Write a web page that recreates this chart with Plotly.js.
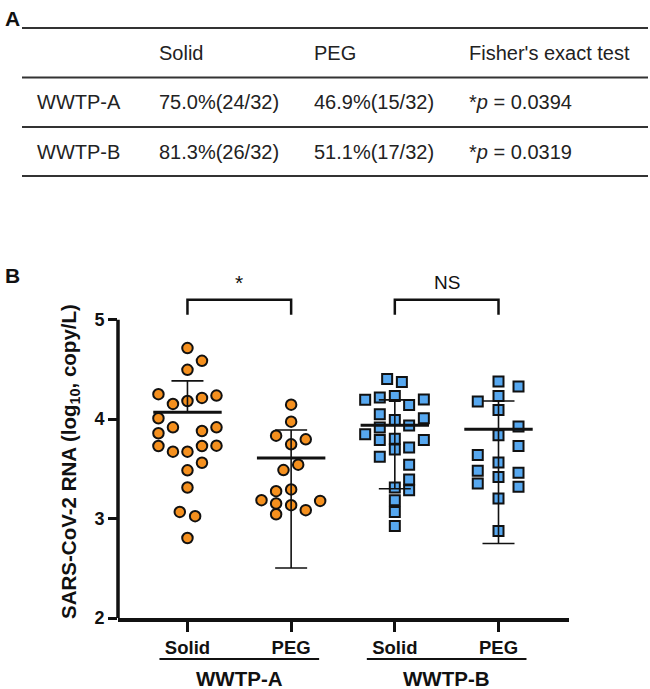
<!DOCTYPE html>
<html>
<head>
<meta charset="utf-8">
<script src="https://cdn.plot.ly/plotly-3.0.1.min.js"></script>
<style>html,body{margin:0;padding:0;background:#fff;}#chart{width:650px;height:689px;}</style>
</head>
<body>
<div id="chart"></div>
<script>
// ---------- Data ----------
var tableColumns = ["Solid", "PEG", "Fisher's exact test"];
var tableRows = ["WWTP-A", "WWTP-B"];
var solidRates = ["75.0%(24/32)", "81.3%(26/32)"];
var pegRates = ["46.9%(15/32)", "51.1%(17/32)"];
var fisherP = ["0.0394", "0.0319"];

var categories = ["Solid", "PEG", "Solid", "PEG"];
var plants = ["WWTP-A", "WWTP-B"];
var significance = ["*", "NS"];

var solidA = [4.715,4.587,4.496,4.251,4.153,4.183,4.214,4.237,4.009,3.918,3.858,3.881,3.918,3.730,3.673,3.673,3.730,3.733,3.562,3.485,3.313,3.067,3.024,2.805];
var pegA = [4.146,3.975,3.834,3.797,3.747,3.488,3.542,3.276,3.293,3.185,3.152,3.135,3.178,3.085,3.044];
var solidB = [4.405,4.375,4.194,4.217,4.234,4.143,4.197,4.049,3.992,4.009,3.915,3.935,3.848,3.790,3.804,3.790,3.696,3.716,3.622,3.542,3.394,3.313,3.286,3.185,3.067,2.926];
var pegB = [4.378,4.328,4.234,4.177,4.093,3.925,3.837,3.730,3.639,3.565,3.481,3.461,3.417,3.354,3.320,3.203,2.876];

var groupMean = [4.07, 3.609, 3.938, 3.898];
var groupUpper = [4.385, 3.891, 4.194, 4.183];
var groupLower = [4.07, 2.503, 3.300, 2.749];

var yTicks = [2, 3, 4, 5];

// horizontal scatter offsets of the dots (category units)
var solidAJitter = [0,0.14,0,-0.28,-0.14,0,0.14,0.28,-0.28,-0.14,-0.28,0.14,0.28,-0.28,-0.14,0,0.14,0.28,0.14,0,0,-0.074,0.074,0];
var pegAJitter = [0,0,-0.145,0.141,0,-0.074,0.068,-0.145,0,-0.286,-0.145,0,0.28,0.141,-0.145];
var solidBJitter = [-0.074,0.068,-0.286,-0.145,0,0.138,0.28,-0.145,0,0.28,-0.145,0.138,-0.286,-0.145,0,0.28,0,0.138,-0.145,0.138,0.138,0,0.138,0,0,0];
var pegBJitter = [0,0.193,0,-0.2,0,0.193,0,0.193,-0.2,0,-0.2,0.193,0,-0.2,0.193,0,0];

// ---------- Layout helpers ----------
var W = 650, H = 689;
var M = {l: 118, r: 81, t: 275, b: 71};
var PW = W - M.l - M.r, PH = H - M.t - M.b;
function px(x) { return (x - M.l) / PW; }
function py(y) { return (H - M.b - y) / PH; }

var FONT = "Arial, 'Liberation Sans', sans-serif";
var ORANGE = "#F5901E", BLUE = "#57A8F0";

function dots(vals, jit, idx, color, symbol, size) {
  return {
    type: "scatter", mode: "markers",
    x: vals.map(function (v, i) { return idx + jit[i]; }),
    y: vals,
    marker: {color: color, symbol: symbol, size: size, line: {color: "#111", width: 2}},
    hoverinfo: "y", showlegend: false, cliponaxis: false
  };
}

var traces = [
  dots(solidA, solidAJitter, 0, ORANGE, "circle", 10.5),
  dots(pegA, pegAJitter, 1, ORANGE, "circle", 10.5),
  dots(solidB, solidBJitter, 2, BLUE, "square", 10),
  dots(pegB, pegBJitter, 3, BLUE, "square", 10)
];

// mean lines
var mx = [], my = [];
groupMean.forEach(function (m, i) { mx.push(i - 0.33, i + 0.33, null); my.push(m, m, null); });
traces.push({type: "scatter", mode: "lines", x: mx, y: my, line: {color: "#111", width: 3}, hoverinfo: "skip", showlegend: false});

// SD error bars
traces.push({
  type: "scatter", mode: "markers",
  x: groupMean.map(function (m, i) { return i; }), y: groupMean,
  marker: {size: 1, color: "rgba(0,0,0,0)"},
  error_y: {type: "data", symmetric: false,
    array: groupUpper.map(function (u, i) { return u - groupMean[i]; }),
    arrayminus: groupLower.map(function (l, i) { return groupMean[i] - l; }),
    color: "#111", thickness: 1.6, width: 16},
  hoverinfo: "skip", showlegend: false
});

// ---------- Table (panel A) ----------
var annotations = [], shapes = [];
var colX = [157, 312, 467];
var rowY = [53, 102, 152];
var lineY = [28, 77.5, 127, 176];
var tfont = {family: FONT, size: 20, color: "#222"};

lineY.forEach(function (y) {
  shapes.push({type: "line", xref: "paper", yref: "paper", x0: px(22), x1: px(648), y0: py(y), y1: py(y), line: {color: "#333", width: 2}});
});
tableColumns.forEach(function (c, i) {
  annotations.push({xref: "paper", yref: "paper", x: px(colX[i]), y: py(rowY[0]), text: c, showarrow: false, xanchor: "left", yanchor: "middle", font: tfont});
});
tableRows.forEach(function (r, i) {
  var y = py(rowY[i + 1]);
  annotations.push({xref: "paper", yref: "paper", x: px(35), y: y, text: r, showarrow: false, xanchor: "left", yanchor: "middle", font: tfont});
  annotations.push({xref: "paper", yref: "paper", x: px(colX[0]), y: y, text: solidRates[i], showarrow: false, xanchor: "left", yanchor: "middle", font: tfont});
  annotations.push({xref: "paper", yref: "paper", x: px(colX[1]), y: y, text: pegRates[i], showarrow: false, xanchor: "left", yanchor: "middle", font: tfont});
  annotations.push({xref: "paper", yref: "paper", x: px(colX[2]), y: y, text: "*<i>p</i> = " + fisherP[i], showarrow: false, xanchor: "left", yanchor: "middle", font: tfont});
});

// panel letters
annotations.push({xref: "paper", yref: "paper", x: px(3), y: py(18), text: "<b>A</b>", showarrow: false, xanchor: "left", yanchor: "middle", font: {family: FONT, size: 21, color: "#111"}});
annotations.push({xref: "paper", yref: "paper", x: px(3), y: py(275), text: "<b>B</b>", showarrow: false, xanchor: "left", yanchor: "middle", font: {family: FONT, size: 21, color: "#111"}});

// y-axis title
annotations.push({xref: "paper", yref: "y", x: px(70), y: 3.57, text: "<b>SARS-CoV-2 RNA (log<sub>10</sub>, copy/L)</b>", textangle: -90, showarrow: false, xanchor: "center", yanchor: "middle", font: {family: FONT, size: 20.5, color: "#111"}});

// y-axis line (only 2..5)
shapes.push({type: "line", xref: "paper", yref: "y", x0: 0, x1: 0, y0: yTicks[0], y1: yTicks[yTicks.length - 1], line: {color: "#111", width: 3.5}});

// group underline + plant labels
plants.forEach(function (p, i) {
  var c0 = 2 * i, c1 = 2 * i + 1;
  shapes.push({type: "line", xref: "x", yref: "paper", x0: c0 - 0.27, x1: c1 + 0.27, y0: py(659), y1: py(659), line: {color: "#111", width: 2}});
  annotations.push({xref: "x", yref: "paper", x: (c0 + c1) / 2, y: py(678), text: "<b>" + p + "</b>", showarrow: false, xanchor: "center", yanchor: "middle", font: {family: FONT, size: 20.5, color: "#111"}});
  // significance brackets
  shapes.push({type: "path", xref: "x", yref: "y", path: "M " + c0 + ",5.05 L " + c0 + ",5.2 L " + c1 + ",5.2 L " + c1 + ",5.05", line: {color: "#111", width: 2.5}});
  annotations.push({xref: "x", yref: "y", x: (c0 + c1) / 2, y: 5.37, text: significance[i], showarrow: false, xanchor: "center", yanchor: "middle", font: {family: FONT, size: significance[i] === "*" ? 21 : 19, color: "#111"}});
});

var layout = {
  width: W, height: H,
  margin: M,
  paper_bgcolor: "#fff", plot_bgcolor: "#fff",
  showlegend: false,
  xaxis: {
    range: [-0.67, 3.68], tickvals: [0, 1, 2, 3], ticktext: categories,
    showline: true, linecolor: "#111", linewidth: 3.5,
    ticks: "outside", ticklen: 10, tickwidth: 3, tickcolor: "#111",
    tickfont: {family: FONT, size: 18.5, color: "#111", weight: "bold"},
    showgrid: false, zeroline: false, fixedrange: true
  },
  yaxis: {
    range: [2, 5.45], tickvals: yTicks, ticktext: yTicks.map(String),
    showline: false, ticks: "outside", ticklen: 9, tickwidth: 3, tickcolor: "#111",
    tickfont: {family: FONT, size: 18, color: "#111", weight: "bold"},
    showgrid: false, zeroline: false, fixedrange: true
  },
  shapes: shapes,
  annotations: annotations
};

Plotly.newPlot("chart", traces, layout, {staticPlot: true, displayModeBar: false});
</script>
</body>
</html>
